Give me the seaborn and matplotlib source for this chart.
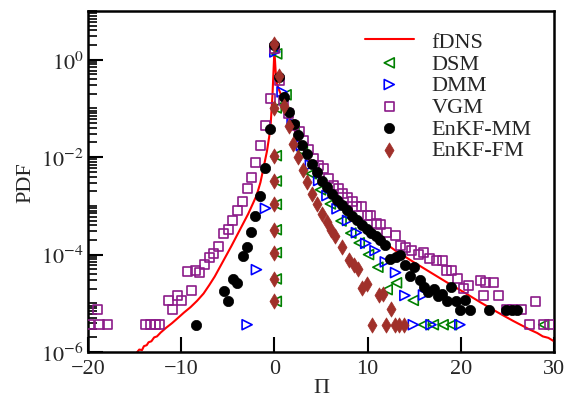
import numpy as np
import pandas as pd
import matplotlib
matplotlib.use("Agg")
import matplotlib.pyplot as plt
import matplotlib.ticker as mticker
import seaborn as sns

# ---------------- data (Pi values and log10(PDF)) ----------------
fdns_pi = [-15.2, -14.8, -14.5, -14.2, -14.0, -13.7, -13.5, -13.2, -12.9, -12.6, -12.2,
           -11.6, -11.0, -10.4, -9.7, -9.0, -8.3, -7.6, -7.0, -6.4, -5.8, -5.2,
           -4.6, -4.0, -3.4, -2.8, -2.3, -1.9, -1.5, -1.2, -0.8, -0.43, -0.2, 0.0,
           0.2, 0.5, 1.0, 1.5, 2.0, 3.0, 4.0, 5.0, 6.0, 7.0, 8.0, 9.0, 10.0,
           11.4, 13.0, 14.9, 16.7, 18.5, 20.3, 22.1, 23.9, 25.6, 26.5, 27.4,
           28.2, 28.8, 29.4, 30.0]
fdns_log = [-6.12, -6.02, -5.95, -5.96, -5.88, -5.86, -5.80, -5.78, -5.70, -5.68, -5.60,
            -5.50, -5.41, -5.31, -5.19, -5.08, -4.95, -4.80, -4.63, -4.45, -4.24, -4.03,
            -3.82, -3.60, -3.38, -3.16, -2.95, -2.78, -2.52, -2.25, -1.88, -1.42, -0.70, 0.19,
            -0.45, -0.62, -0.86, -1.12, -1.38, -1.80, -2.14, -2.44, -2.70, -2.92, -3.10, -3.26, -3.43,
            -3.70, -3.92, -4.15, -4.36, -4.57, -4.77, -4.98, -5.18, -5.36, -5.45, -5.54,
            -5.61, -5.68, -5.71, -5.78]

dsm_pi = [0.2, 0.2, 0.2, 0.2, 0.2, 0.2, 0.2, 0.2, 0.25, 1.25, 2.1, 3.0, 3.95, 4.95,
          6.0, 7.15, 8.2, 9.1, 10.1, 11.1, 12.1, 13.1, 14.9, 16.0, 17.05, 18.1, 19.0, 28.9]
dsm_log = [-0.99, -1.97, -2.49, -2.97, -3.49, -3.96, -4.50, -4.96, 0.12, -0.72, -1.38, -1.88,
           -2.34, -2.67, -2.96, -3.31, -3.56, -3.76, -4.00, -4.26, -4.72, -4.58, -4.94,
           -5.44, -5.44, -5.44, -5.44, -5.44]

dmm_pi = [-2.93, -1.93, -0.96, 0.05, 0.82, 1.9, 2.89, 3.86, 4.75, 5.64, 6.72, 7.85, 8.8,
          9.8, 10.8, 11.9, 13.0, 14.0, 16.0, 14.9, 16.8, 19.9]
dmm_log = [-5.44, -4.31, -3.05, 0.16, -0.66, -1.30, -1.76, -2.16, -2.48, -2.79, -3.06, -3.30,
           -3.55, -3.77, -3.92, -4.15, -4.37, -4.84, -4.83, -5.44, -5.44, -5.44]

vgm_pi = [-19.8, -19.0, -18.8, -17.95, -13.8, -13.3, -12.8, -12.3, -11.4, -10.96, -10.4,
          -10.0, -9.36, -8.93, -8.47, -8.0, -7.5, -6.93, -6.51, -5.97, -5.5, -4.96, -4.47,
          -3.93, -3.46, -2.93, -2.5, -2.04, -1.5, -0.96, -0.43, 0.0, 0.57, 1.0, 1.53, 2.07,
          2.68, 3.14, 3.68, 4.21, 4.75, 5.29, 5.82, 6.36, 6.83, 7.32, 7.79, 8.33, 8.86, 9.32,
          9.94, 10.29, 11.0, 11.36, 12.08, 12.97, 13.5, 14.04, 14.76, 15.5, 16.0, 16.6,
          17.4, 18.0, 18.5, 19.0, 19.6, 20.3, 20.8, 22.1, 22.7, 23.5, 22.4, 24.0, 24.9,
          25.6, 26.5, 28.0, 27.4, 28.9, 29.5]
vgm_log = [-5.44, -5.13, -5.44, -5.44, -5.44, -5.44, -5.44, -5.44, -4.95, -5.13, -4.84,
           -4.95, -4.35, -4.74, -4.33, -4.37, -4.21, -4.07, -3.98, -3.83, -3.57, -3.48, -3.30,
           -3.09, -2.91, -2.65, -2.41, -2.12, -1.76, -1.35, -0.80, 0.22, -0.42, -0.84, -1.11,
           -1.35, -1.48, -1.66, -1.84, -2.03, -2.18, -2.24, -2.44, -2.58, -2.65, -2.75, -2.82,
           -2.92, -3.01, -3.02, -3.20, -3.20, -3.37, -3.38, -3.54, -3.60, -3.81, -3.85, -3.92,
           -4.00, -3.95, -4.09, -4.12, -4.12, -4.33, -4.33, -4.50, -4.70, -4.63, -4.53, -4.58,
           -4.58, -4.84, -4.84, -5.13, -5.13, -5.13, -4.96, -5.44, -5.44, -5.44]

mm_pi = [-8.4, -5.43, -4.96, -4.47, -4.0, -3.4, -2.93, -2.5, -2.04, -1.5, -0.96, -0.43, 0.0,
         0.5, 1.0, 1.53, 2.07, 2.54, 2.97, 3.5, 4.04, 4.57, 5.1, 5.64, 6.18, 6.72, 7.26, 7.79,
         8.33, 8.86, 9.4, 9.9, 10.4, 10.85, 11.36, 11.9, 12.43, 13.0, 13.5, 14.0, 14.6, 14.95,
         15.6, 16.0, 16.5, 17.1, 17.5, 18.0, 18.5, 19.0, 19.5, 19.9, 20.5, 21.0, 23.0, 24.9,
         25.5, 26.0]
mm_log = [-5.44, -4.74, -4.96, -4.51, -4.58, -4.03, -3.85, -3.54, -3.20, -2.79, -2.22, -1.43,
          0.30, -0.36, -0.77, -1.07, -1.31, -1.55, -1.75, -1.93, -2.14, -2.31, -2.48, -2.61,
          -2.75, -2.89, -2.99, -3.09, -3.20, -3.30, -3.40, -3.48, -3.55, -3.62, -3.71, -3.80,
          -4.09, -4.05, -4.00, -4.22, -4.43, -4.26, -4.53, -4.67, -4.77, -4.70, -4.85, -4.80,
          -4.95, -4.66, -4.95, -5.13, -4.94, -5.13, -5.13, -5.13, -5.13, -5.13]

fm_pi = [0.0, 0.0, 0.0, 0.0, 0.0, 0.0, 0.0, 0.0, 0.0, 0.5, 1.0, 1.53, 2.0, 2.5, 3.05, 3.55,
         4.05, 4.55, 5.1, 5.6, 6.1, 6.5, 7.26, 8.0, 8.5, 9.0, 9.4, 9.9, 11.2, 11.6, 12.55,
         10.5, 12.0, 12.9, 13.4, 13.9]
fm_log = [-0.99, -1.97, -2.49, -2.97, -3.49, -3.96, -4.50, -4.96, 0.33, -0.34, -0.95, -1.36,
          -1.72, -2.00, -2.27, -2.51, -2.75, -2.96, -3.16, -3.33, -3.50, -3.61, -3.85, -4.12,
          -4.22, -4.29, -4.69, -4.61, -4.84, -4.80, -5.11, -5.44, -5.44, -5.44, -5.44, -5.44]

labels = ["fDNS", "DSM", "DMM", "VGM", "EnKF-MM", "EnKF-FM"]
x_ticks = [-20, -10, 0, 10, 20, 30]
x_ticklabels = ["\u221220", "\u221210", "0", "10", "20", "30"]
y_ticks = [1e-6, 1e-4, 1e-2, 1e0]

# ---------------- style ----------------
sns.set_style("white")
plt.rcParams["font.family"] = ["Liberation Serif", "DejaVu Serif"]
plt.rcParams["mathtext.fontset"] = "stix"
plt.rcParams["font.size"] = 16

fig = plt.figure(figsize=(5.64, 4.02), dpi=100)
ax = fig.add_axes([88 / 564, 1 - 353 / 402, (554 - 88) / 564, (353 - 12) / 402])

def frame(pi, lg):
    return pd.DataFrame({"Pi": pi, "PDF": np.power(10.0, lg)})

sns.lineplot(data=frame(fdns_pi, fdns_log), x="Pi", y="PDF", sort=False, estimator=None,
             color="#ff0000", linewidth=1.5, ax=ax, label=labels[0], zorder=2)

sns.scatterplot(data=frame(dsm_pi, dsm_log), x="Pi", y="PDF", marker="<", s=52,
                facecolor="none", edgecolor="#008000", linewidth=1.2, ax=ax,
                label=labels[1], zorder=3)
sns.scatterplot(data=frame(dmm_pi, dmm_log), x="Pi", y="PDF", marker=">", s=52,
                facecolor="none", edgecolor="#0000ff", linewidth=1.2, ax=ax,
                label=labels[2], zorder=3)
sns.scatterplot(data=frame(vgm_pi, vgm_log), x="Pi", y="PDF", marker="s", s=42,
                facecolor="none", edgecolor="#8b1a89", linewidth=1.2, ax=ax,
                label=labels[3], zorder=3)
sns.scatterplot(data=frame(mm_pi, mm_log), x="Pi", y="PDF", marker="o", s=55,
                color="black", edgecolor="black", linewidth=0.5, ax=ax,
                label=labels[4], zorder=4)
sns.scatterplot(data=frame(fm_pi, fm_log), x="Pi", y="PDF", marker="d", s=60,
                color="#a0302a", edgecolor="#a0302a", linewidth=0.5, ax=ax,
                label=labels[5], zorder=5)

ax.set_yscale("log")
ax.set_xlim(-20, 30)
ax.set_ylim(1e-6, 10)
ax.set_xticks(x_ticks)
ax.set_xticklabels(x_ticklabels)
ax.yaxis.set_major_locator(mticker.FixedLocator(y_ticks))
ax.yaxis.set_minor_locator(mticker.LogLocator(base=10, subs=np.arange(1, 10), numticks=30))
ax.yaxis.set_major_formatter(mticker.FuncFormatter(
    lambda v, p: r"$10^{%d}$" % int(round(np.log10(v)))))
ax.yaxis.set_minor_formatter(mticker.NullFormatter())

ax.tick_params(axis="both", which="major", direction="in", length=11, width=1.5,
               labelsize=16, bottom=True, left=True, top=False, right=False, pad=3,
               color="black")
ax.tick_params(axis="x", which="major", pad=5)
ax.tick_params(axis="y", which="minor", direction="in", length=6.5, width=1.2,
               left=True, right=False, color="black")
ax.tick_params(axis="x", which="minor", bottom=False, top=False)

for sp in ax.spines.values():
    sp.set_linewidth(1.8)
    sp.set_color("black")

ax.set_xlabel("\u03a0", fontsize=16, labelpad=0)
ax.set_ylabel("PDF", fontsize=16, labelpad=4)

leg = ax.legend(loc="upper left", bbox_to_anchor=(0.594, 0.94), frameon=False,
                handlelength=2.2, handletextpad=0.8, labelspacing=0.05, borderpad=0,
                borderaxespad=0, fontsize=16)

fig.savefig("out.png", dpi=100)
